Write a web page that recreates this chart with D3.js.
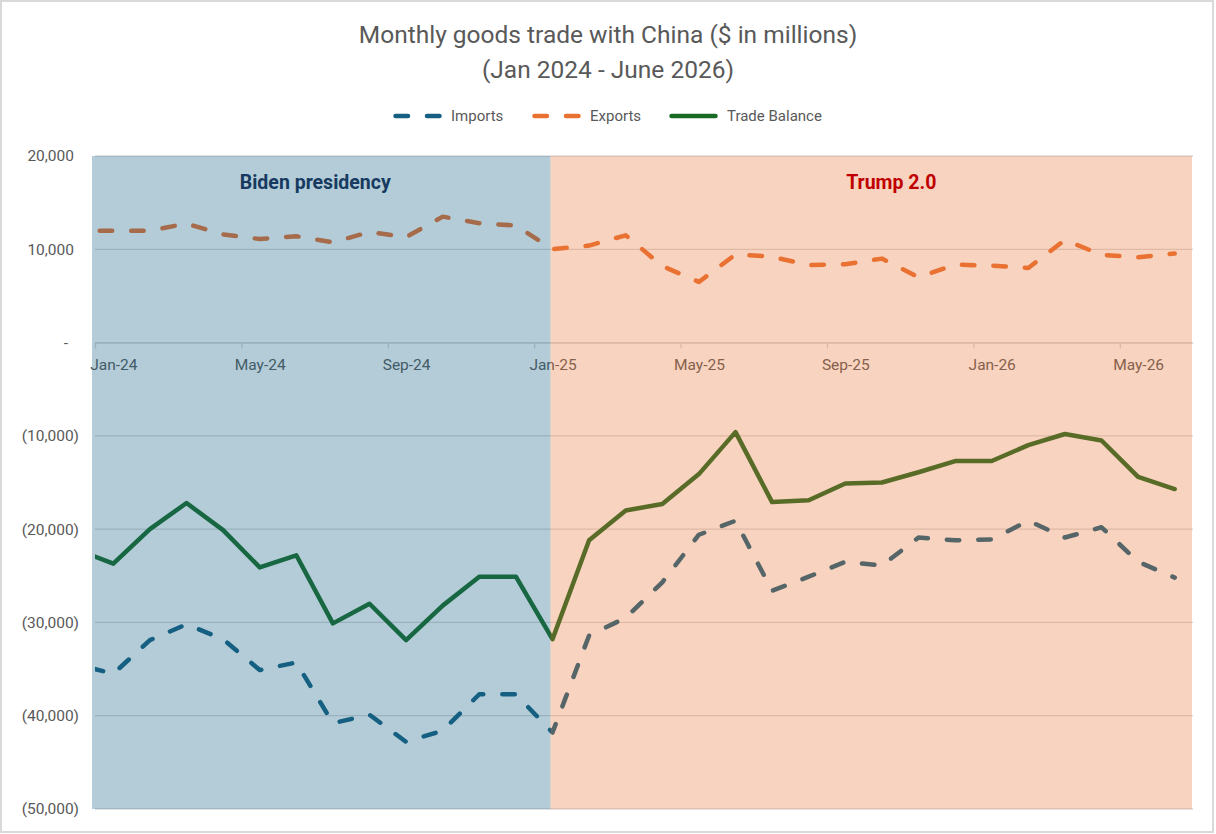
<!DOCTYPE html>
<html>
<head>
<meta charset="utf-8">
<script src="https://cdn.jsdelivr.net/npm/d3@7"></script>
<style>
  body { margin: 0; background: #fff; }
  text { font-family: Roboto, "Open Sans", sans-serif; }
</style>
</head>
<body>
<div id="chart"></div>
<script>
// first entry (Dec-23) only shows as the clipped lead-in at the left edge
const months = ["Dec-23",
    "Jan-24","Feb-24","Mar-24","Apr-24","May-24","Jun-24","Jul-24","Aug-24","Sep-24","Oct-24","Nov-24","Dec-24",
    "Jan-25","Feb-25","Mar-25","Apr-25","May-25","Jun-25","Jul-25","Aug-25","Sep-25","Oct-25","Nov-25","Dec-25",
    "Jan-26","Feb-26","Mar-26","Apr-26","May-26","Jun-26"];

const imports = [-34500,
    -35500, -31900, -30200, -31800, -35100, -34300, -40800, -39900, -42800, -41600, -37700, -37700,
    -41800, -31400, -29500, -25700, -20600, -19100, -26600, -25100, -23500, -23900, -20900, -21200,
    -21100, -19100, -20900, -19800, -23500, -25200];

const exports = [12000,
    12000, 12000, 12750, 11600, 11100, 11400, 10750, 11850, 11300, 13500, 12800, 12550,
    10000, 10400, 11500, 8200, 6500, 9450, 9200, 8300, 8400, 9000, 7000, 8350,
    8250, 8000, 11000, 9400, 9150, 9550];

const tradeBalance = [-22200,
    -23700, -20000, -17200, -20100, -24100, -22800, -30100, -28000, -31900, -28200, -25100, -25100,
    -31800, -21200, -18000, -17300, -14100, -9600, -17100, -16900, -15100, -15000, -13900, -12700,
    -12700, -11000, -9800, -10500, -14400, -15700];

const seriesNames = ["Imports", "Exports", "Trade Balance"];
const seriesColours = ["#156082", "#E97132", "#196B24"];
const seriesDashed = [true, true, false];

const yTicks = [20000, 10000, 0, -10000, -20000, -30000, -40000, -50000];
const xLabelMonths = ["Jan-24","May-24","Sep-24","Jan-25","May-25","Sep-25","Jan-26","May-26"];

const periods = ["Biden presidency", "Trump 2.0"];
const periodBreak = "Jan-25";
const periodFill = ["#156082", "#E97132"];
const periodText = ["#163a60", "#c00000"];

const width = 1216;
const height = 834;
const margin = { top: 156, right: 23, bottom: 25, left: 95 };
const textGrey = "#595959";
const gridGrey = "#d9d9d9";

const svg = d3.select("#chart").append("svg")
    .attr("width", width)
    .attr("height", height);

svg.append("rect")
    .attr("x", 1).attr("y", 1)
    .attr("width", width - 4).attr("height", height - 3)
    .attr("fill", "#fff")
    .attr("stroke", gridGrey)
    .attr("stroke-width", 2);

// months are indexed from Dec-23 = 0, so Jan-24 sits at 1
const x = d3.scaleLinear().domain([0.5, months.length - 0.5]).range([margin.left, width - margin.right]);
const y = d3.scaleLinear().domain([-50000, 20000]).range([height - margin.bottom, margin.top]);

// gridlines
svg.append("g").selectAll("line").data(yTicks).enter().append("line")
    .attr("x1", x.range()[0]).attr("x2", x.range()[1])
    .attr("y1", d => y(d)).attr("y2", d => y(d))
    .attr("stroke", gridGrey)
    .attr("stroke-width", 1.3);

// category axis at zero: tick marks between months, labels under month centres
const labelIdx = xLabelMonths.map(m => months.indexOf(m));
const tickAxis = d3.axisBottom(x)
    .tickValues(labelIdx.map(i => i - 0.5))
    .tickSize(6).tickSizeOuter(0)
    .tickFormat("");
const tickGroup = svg.append("g")
    .attr("transform", `translate(0, ${y(0)})`)
    .call(tickAxis);
tickGroup.selectAll("path, line").attr("stroke", gridGrey).attr("stroke-width", 1.3);

const labelAxis = d3.axisBottom(x)
    .tickValues(labelIdx)
    .tickSize(0).tickPadding(16)
    .tickFormat(i => months[i]);
const labelGroup = svg.append("g")
    .attr("transform", `translate(0, ${y(0)})`)
    .call(labelAxis);
labelGroup.select(".domain").remove();
labelGroup.selectAll("text")
    .attr("fill", textGrey)
    .attr("font-size", "15.5px")
    .style("font-family", "Roboto, sans-serif");

// value labels, accounting style
const fmt = d3.format(",");
svg.append("g").selectAll("text").data(yTicks).enter().append("text")
    .attr("x", d => d < 0 ? 79 : (d > 0 ? 74 : 68))
    .attr("y", d => y(d))
    .attr("dy", "0.35em")
    .attr("text-anchor", "end")
    .attr("fill", textGrey)
    .attr("font-size", "15.5px")
    .text(d => d < 0 ? `(${fmt(-d)})` : (d > 0 ? fmt(d) : "-"));

// lines
svg.append("clipPath").attr("id", "plotClip")
    .append("rect")
    .attr("x", x.range()[0]).attr("y", 0)
    .attr("width", x.range()[1] - x.range()[0]).attr("height", height);

const allSeries = [imports, exports, tradeBalance];
const dashOffsets = [16.7, 8.5, 0];
const line = d3.line().x((d, i) => x(i)).y(d => y(d));

const lineGroup = svg.append("g").attr("clip-path", "url(#plotClip)");
allSeries.forEach((s, k) => {
    lineGroup.append("path")
        .datum(s)
        .attr("d", line)
        .attr("fill", "none")
        .attr("stroke", seriesColours[k])
        .attr("stroke-width", 4.5)
        .attr("stroke-linecap", "round")
        .attr("stroke-linejoin", "round")
        .attr("stroke-dasharray", seriesDashed[k] ? "12.5 19" : null)
        .attr("stroke-dashoffset", dashOffsets[k]);
});

// translucent period shading laid over everything in the plot
const breakX = x(months.indexOf(periodBreak)) - 2;
const plotLeft = x.range()[0] - 3;
const plotRight = x.range()[1] - 1;
const shadeBounds = [[plotLeft, breakX], [breakX, plotRight]];

svg.append("g").selectAll("rect").data(periods).enter().append("rect")
    .attr("x", (d, i) => shadeBounds[i][0])
    .attr("width", (d, i) => shadeBounds[i][1] - shadeBounds[i][0])
    .attr("y", y(20000))
    .attr("height", y(-50000) - y(20000))
    .attr("fill", (d, i) => periodFill[i])
    .attr("fill-opacity", (d, i) => i === 0 ? 0.32 : 0.31);

const labelShift = [-6, 20];
svg.append("g").selectAll("text").data(periods).enter().append("text")
    .attr("x", (d, i) => (shadeBounds[i][0] + shadeBounds[i][1]) / 2 + labelShift[i])
    .attr("y", 188.5)
    .attr("text-anchor", "middle")
    .attr("font-size", "19.5px")
    .attr("font-weight", "bold")
    .attr("fill", (d, i) => periodText[i])
    .text(d => d);

// title
const title = svg.append("text")
    .attr("x", 608)
    .attr("text-anchor", "middle")
    .attr("fill", textGrey)
    .attr("font-size", "24.5px");
title.append("tspan").attr("x", 608).attr("y", 43).text("Monthly goods trade with China ($ in millions)");
title.append("tspan").attr("x", 608).attr("y", 78).text("(Jan 2024 - June 2026)");

// legend
const legendX = [393, 532, 669];
const legend = svg.append("g").attr("transform", "translate(0, 116)");
seriesNames.forEach((name, k) => {
    legend.append("line")
        .attr("x1", legendX[k] + 2.5).attr("x2", legendX[k] + 46.5)
        .attr("y1", 0).attr("y2", 0)
        .attr("stroke", seriesColours[k])
        .attr("stroke-width", 4.5)
        .attr("stroke-linecap", "round")
        .attr("stroke-dasharray", seriesDashed[k] ? "12.5 19" : null);
    legend.append("text")
        .attr("x", legendX[k] + 58)
        .attr("y", 0)
        .attr("dy", "0.35em")
        .attr("fill", textGrey)
        .attr("font-size", "15px")
        .text(name);
});
</script>
</body>
</html>
